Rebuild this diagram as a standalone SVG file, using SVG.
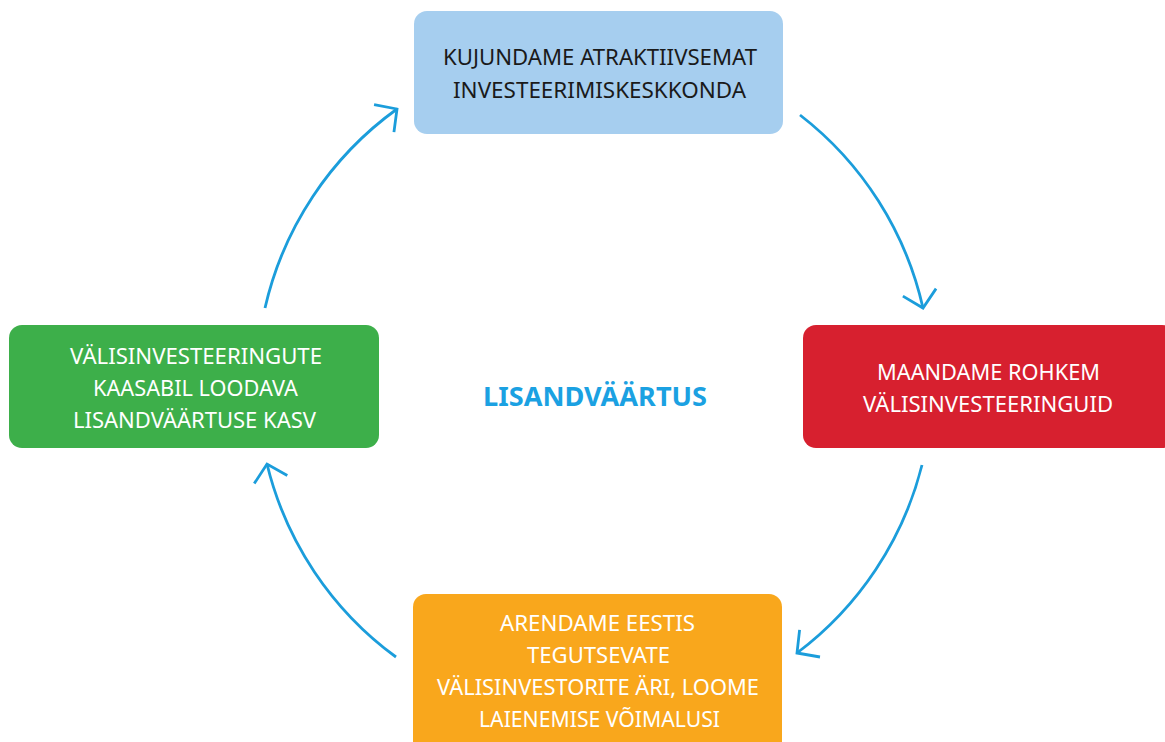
<svg xmlns="http://www.w3.org/2000/svg" width="1165" height="742" viewBox="0 0 1165 742">
<style>
.t{font-family:"Noto Sans","Open Sans","Liberation Sans",sans-serif;font-size:22px;text-anchor:middle}
.w{fill:#ffffff}
.k{fill:#1a1a1a}
.c{fill:none;stroke:#1b9ddb;stroke-width:2.8;stroke-linecap:butt}
.lbl{font-family:"Noto Sans","Open Sans","Liberation Sans",sans-serif;font-size:27px;font-weight:bold;fill:#1ba1e2;text-anchor:middle}
</style>
<defs>
<marker id="ah" markerUnits="userSpaceOnUse" markerWidth="40" markerHeight="40" viewBox="-20 -20 40 40" refX="0" refY="0" orient="auto" overflow="visible">
<path d="M-16,-17 L0,0 L-16,17" fill="none" stroke="#1b9ddb" stroke-width="2.8"/>
</marker>
</defs>
<rect width="1165" height="742" fill="#ffffff"/>
<g id="connectors">
<path class="c" d="M 800 115 A 338 338 0 0 1 923 308" marker-end="url(#ah)"/>
<path class="c" d="M 922 465 A 338 338 0 0 1 797 653" marker-end="url(#ah)"/>
<path class="c" d="M 396 657 A 338 338 0 0 1 267 464" marker-end="url(#ah)"/>
<path class="c" d="M 265 308 A 338 338 0 0 1 397 109" marker-end="url(#ah)"/>
</g>
<g id="node-top">
<rect x="414" y="11" width="369" height="123" rx="13" fill="#a6ceef"/>
<text class="t k" x="600" y="65" textLength="314" lengthAdjust="spacingAndGlyphs">KUJUNDAME ATRAKTIIVSEMAT</text>
<text class="t k" x="599.5" y="98" textLength="293" lengthAdjust="spacingAndGlyphs">INVESTEERIMISKESKKONDA</text>
</g>
<g id="node-right">
<rect x="803" y="325" width="372" height="123" rx="13" fill="#d7202f"/>
<text class="t w" x="988.5" y="380" textLength="223" lengthAdjust="spacingAndGlyphs">MAANDAME ROHKEM</text>
<text class="t w" x="988" y="412" textLength="250" lengthAdjust="spacingAndGlyphs">VÄLISINVESTEERINGUID</text>
</g>
<g id="node-bottom">
<rect x="413" y="594" width="369" height="160" rx="13" fill="#f9a71c"/>
<text class="t w" x="597.5" y="631" textLength="195" lengthAdjust="spacingAndGlyphs">ARENDAME EESTIS</text>
<text class="t w" x="598.5" y="663" textLength="143" lengthAdjust="spacingAndGlyphs">TEGUTSEVATE</text>
<text class="t w" x="598" y="695" textLength="322" lengthAdjust="spacingAndGlyphs">VÄLISINVESTORITE ÄRI, LOOME</text>
<text class="t w" x="599.5" y="727" textLength="241" lengthAdjust="spacingAndGlyphs">LAIENEMISE VÕIMALUSI</text>
</g>
<g id="node-left">
<rect x="9" y="325" width="370" height="123" rx="13" fill="#3daf4a"/>
<text class="t w" x="196" y="364" textLength="252" lengthAdjust="spacingAndGlyphs">VÄLISINVESTEERINGUTE</text>
<text class="t w" x="195.5" y="396" textLength="205" lengthAdjust="spacingAndGlyphs">KAASABIL LOODAVA</text>
<text class="t w" x="194.5" y="428" textLength="243" lengthAdjust="spacingAndGlyphs">LISANDVÄÄRTUSE KASV</text>
</g>
<g id="center-label">
<text class="lbl" x="595" y="406" textLength="224" lengthAdjust="spacingAndGlyphs">LISANDVÄÄRTUS</text>
</g>
</svg>
